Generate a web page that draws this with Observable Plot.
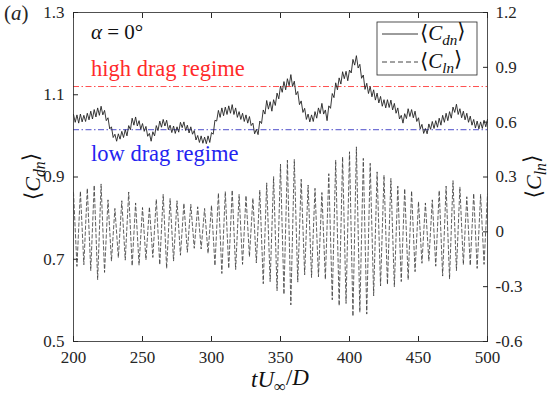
<!DOCTYPE html>
<html><head><meta charset="utf-8">
<script src="https://cdn.jsdelivr.net/npm/d3@7"></script>
<script src="https://cdn.jsdelivr.net/npm/@observablehq/plot@0.6"></script>
<style>
body{margin:0;background:#fff;}
#chart{position:relative;width:550px;height:398px;}
#chart svg{position:absolute;left:0;top:0;}
#chart svg, #chart svg text{font-family:"Liberation Serif","Tinos","Times New Roman","DejaVu Serif",serif !important;}
</style></head><body><div id="chart"></div>
<script>
// time sampling of the two series (tU/D)
const tStart = 200;
const dtDn = 1.25;   // drag samples: alternating local max / min
const dtLn = 2.5;    // lift samples: alternating peak / trough

// <C_dn>, one row per 10 time units
const cdn = [
  1.052,1.033,1.051,1.031,1.053,1.034,1.050,1.035,
  1.055,1.039,1.060,1.041,1.064,1.046,1.068,1.050,
  1.072,1.051,1.062,1.037,1.044,1.017,1.022,0.996,
  1.004,0.987,1.005,0.992,1.011,0.996,1.015,1.000,
  1.025,1.015,1.043,1.026,1.046,1.024,1.037,1.016,
  1.030,1.011,1.023,0.999,1.006,0.987,1.010,1.000,
  1.025,1.013,1.036,1.021,1.040,1.024,1.038,1.015,
  1.026,1.008,1.024,1.006,1.022,1.009,1.033,1.020,
  1.034,1.013,1.026,1.007,1.022,1.004,1.013,0.990,
  1.001,0.984,1.000,0.982,0.997,0.981,1.000,0.984,
  1.008,1.004,1.038,1.036,1.062,1.045,1.068,1.049,
  1.070,1.052,1.073,1.055,1.076,1.052,1.068,1.045,
  1.059,1.040,1.055,1.035,1.051,1.031,1.047,1.025,
  1.031,1.005,1.016,1.003,1.036,1.030,1.063,1.053,
  1.086,1.065,1.083,1.060,1.088,1.074,1.104,1.090,
  1.121,1.106,1.132,1.112,1.139,1.122,1.149,1.120,
  1.133,1.100,1.108,1.076,1.085,1.057,1.067,1.040,
  1.053,1.034,1.051,1.035,1.059,1.043,1.068,1.054,
  1.079,1.053,1.063,1.037,1.073,1.067,1.103,1.093,
  1.129,1.112,1.141,1.126,1.156,1.139,1.157,1.134,
  1.160,1.153,1.186,1.172,1.195,1.165,1.174,1.140,
  1.148,1.113,1.128,1.103,1.120,1.095,1.112,1.087,
  1.104,1.080,1.096,1.072,1.088,1.068,1.088,1.069,
  1.087,1.063,1.079,1.055,1.068,1.041,1.050,1.031,
  1.054,1.042,1.066,1.047,1.064,1.044,1.060,1.035,
  1.044,1.017,1.028,1.006,1.018,1.005,1.029,1.016,
  1.035,1.018,1.037,1.021,1.043,1.026,1.050,1.033,
  1.055,1.037,1.059,1.043,1.070,1.057,1.077,1.052,
  1.066,1.044,1.060,1.039,1.055,1.033,1.048,1.026,
  1.040,1.019,1.036,1.017,1.034,1.018,1.038,1.022,
  1.040
];

// <C_ln> peaks and troughs, one row per 10 time units
const cln = [
  0.215,-0.189, 0.222,-0.180, 0.238,-0.212, 0.255,-0.262,
  0.262,-0.222, 0.175,-0.160, 0.128,-0.141, 0.170,-0.155,
  0.218,-0.186, 0.158,-0.182, 0.133,-0.153, 0.136,-0.140,
  0.178,-0.180, 0.205,-0.200, 0.182,-0.160, 0.170,-0.128,
  0.156,-0.112, 0.150,-0.090, 0.137,-0.094, 0.128,-0.118,
  0.145,-0.185, 0.212,-0.228, 0.220,-0.200, 0.228,-0.206,
  0.205,-0.178, 0.198,-0.136, 0.184,-0.170, 0.228,-0.284,
  0.268,-0.272, 0.302,-0.322, 0.370,-0.342, 0.392,-0.400,
  0.396,-0.275, 0.288,-0.235, 0.256,-0.250, 0.238,-0.246,
  0.215,-0.260, 0.318,-0.372, 0.392,-0.404, 0.410,-0.392,
  0.438,-0.462, 0.465,-0.440, 0.402,-0.450, 0.375,-0.350,
  0.328,-0.296, 0.310,-0.288, 0.292,-0.300, 0.250,-0.272,
  0.236,-0.262, 0.224,-0.218, 0.165,-0.172, 0.158,-0.160,
  0.175,-0.188, 0.226,-0.242, 0.250,-0.258, 0.280,-0.212,
  0.245,-0.180, 0.192,-0.184, 0.210,-0.200, 0.205,-0.178,
  0.206
];

const xDomain = [200, 500];
const yDomainDn = [0.5, 1.3];
const yDomainLn = [-0.6, 1.2];
const xTicks = [200, 250, 300, 350, 400, 450, 500];
const yTicksDn = [0.5, 0.7, 0.9, 1.1, 1.3];
const yTicksLn = [-0.6, -0.3, 0, 0.3, 0.6, 0.9, 1.2];
const highDrag = 1.12;
const lowDrag = 1.015;

const dnData = cdn.map((v, i) => ({t: tStart + i * dtDn, v}));
const lnData = cln.map((v, i) => ({t: tStart + i * dtLn, v}));

const W = 550, H = 398;
const M = {left: 73, right: 63, top: 12, bottom: 57};
const ink = "#262626";
const fontFam = '"Liberation Serif","Tinos","Times New Roman","DejaVu Serif",serif';

const p1 = Plot.plot({
  width: W, height: H,
  marginLeft: M.left, marginRight: M.right, marginTop: M.top, marginBottom: M.bottom,
  style: {fontFamily: fontFam, fontSize: "17px", background: "white", color: ink},
  x: {domain: xDomain, label: null},
  y: {domain: yDomainDn, label: null},
  marks: [
    Plot.ruleY([highDrag], {stroke: "#ff3b3b", strokeWidth: 0.9, strokeDasharray: "6,2.5,1.5,2.5"}),
    Plot.ruleY([lowDrag], {stroke: "#3a3ac4", strokeWidth: 0.9, strokeDasharray: "6,2.5,1.5,2.5"}),
    Plot.line(dnData, {x: "t", y: "v", stroke: "#222", strokeWidth: 0.9}),
    Plot.frame({stroke: ink, strokeWidth: 0.8}),
    Plot.axisX(xTicks, {anchor: "bottom", tickSize: -5, tickPadding: 14, label: null, tickFormat: d => String(d), fontSize: 17}),
    Plot.axisX(xTicks, {anchor: "top", tickSize: -5, label: null, tickFormat: () => ""}),
    Plot.axisY(yTicksDn, {anchor: "left", tickSize: -5, tickPadding: 14, label: null, tickFormat: d => d.toFixed(1), fontSize: 17})
  ]
});

const p2 = Plot.plot({
  width: W, height: H,
  marginLeft: M.left, marginRight: M.right, marginTop: M.top, marginBottom: M.bottom,
  style: {fontFamily: fontFam, fontSize: "17px", background: "transparent", color: ink},
  x: {domain: xDomain, axis: null, label: null},
  y: {domain: yDomainLn, label: null},
  marks: [
    Plot.line(lnData, {x: "t", y: "v", stroke: "#3a3a3a", strokeWidth: 0.8, strokeDasharray: "3.5,2.5"}),
    Plot.axisY(yTicksLn, {anchor: "right", tickSize: -5, tickPadding: 13, label: null,
      tickFormat: d => d === 0 ? "0" : d.toFixed(1), fontSize: 17})
  ]
});

const root = document.getElementById("chart");
root.appendChild(p1);
root.appendChild(p2);

// annotation overlay (labels, legend)
const svg = d3.select(root).append("svg")
  .attr("width", W).attr("height", H)
  .attr("font-family", fontFam).style("overflow", "visible");

function mathLabel(g, parts) {
  parts.forEach(p => {
    const ts = g.append("tspan").text(p.s);
    if (p.i) ts.style("font-style", "italic");
    if (p.sub) ts.attr("dy", "0.3em").style("font-size", "0.72em");
    if (p.up) ts.attr("dy", "-0.3em");
  });
}

// (a)
mathLabel(svg.append("text").attr("x", 4).attr("y", 20).attr("font-size", 21).attr("fill", ink),
  [{s: "("}, {s: "a", i: true}, {s: ")"}]);

// alpha = 0°
mathLabel(svg.append("text").attr("x", 91).attr("y", 39).attr("font-size", 21).attr("fill", "#111"),
  [{s: "α", i: true}, {s: " = 0°"}]);

// regime labels
svg.append("text").attr("x", 91).attr("y", 76).attr("font-size", 22.5).attr("fill", "#ff2a2a")
  .text("high drag regime");
svg.append("text").attr("x", 91).attr("y", 161).attr("font-size", 22.5).attr("fill", "#2424f0")
  .text("low drag regime");

// legend
const lg = svg.append("g");
lg.append("rect").attr("x", 377).attr("y", 22).attr("width", 100).attr("height", 53)
  .attr("fill", "white").attr("stroke", ink).attr("stroke-width", 0.8);
lg.append("line").attr("x1", 382).attr("x2", 418).attr("y1", 34).attr("y2", 34)
  .attr("stroke", "#222").attr("stroke-width", 0.9);
lg.append("line").attr("x1", 382).attr("x2", 418).attr("y1", 62).attr("y2", 62)
  .attr("stroke", "#303030").attr("stroke-width", 0.9).attr("stroke-dasharray", "5,3");
mathLabel(lg.append("text").attr("x", 420).attr("y", 40).attr("font-size", 21).attr("fill", "#111"),
  [{s: "⟨"}, {s: "C", i: true}, {s: "dn", i: true, sub: true}, {s: "⟩", up: true}]);
mathLabel(lg.append("text").attr("x", 420).attr("y", 68).attr("font-size", 21).attr("fill", "#111"),
  [{s: "⟨"}, {s: "C", i: true}, {s: "ln", i: true, sub: true}, {s: "⟩", up: true}]);

// axis titles
mathLabel(svg.append("text").attr("x", 280).attr("y", 387).attr("text-anchor", "middle")
  .attr("font-size", 23).attr("fill", "#111"),
  [{s: "tU", i: true}, {s: "∞", sub: true}, {s: "/", up: true}, {s: "D", i: true}]);
mathLabel(svg.append("text").attr("transform", "translate(40,176.5) rotate(-90)")
  .attr("text-anchor", "middle").attr("font-size", 22).attr("fill", "#111"),
  [{s: "⟨"}, {s: "C", i: true}, {s: "dn", i: true, sub: true}, {s: "⟩", up: true}]);
mathLabel(svg.append("text").attr("transform", "translate(541,176.5) rotate(-90)")
  .attr("text-anchor", "middle").attr("font-size", 22).attr("fill", "#111"),
  [{s: "⟨"}, {s: "C", i: true}, {s: "ln", i: true, sub: true}, {s: "⟩", up: true}]);
</script>
</body></html>
